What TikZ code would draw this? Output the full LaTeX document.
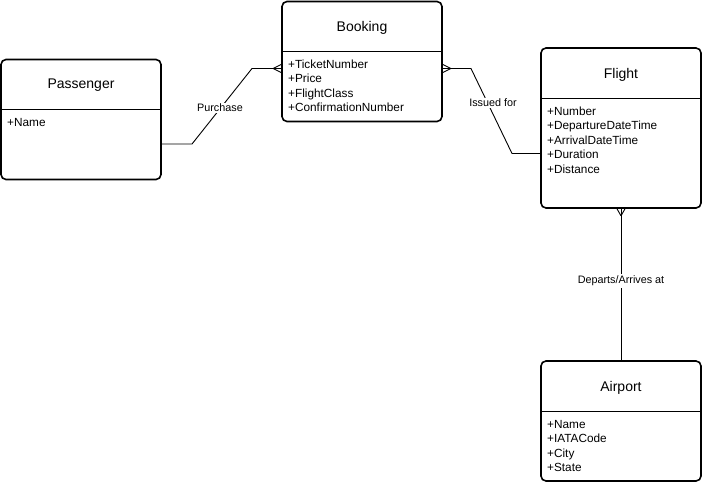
\documentclass[tikz,border=0pt]{standalone}
\usepackage{fontspec}
\setmainfont{Liberation Sans}
\begin{document}
\begin{tikzpicture}[x=1pt,y=-1pt,
  entity/.style={draw=black,line width=1.6pt,rounded corners=5pt,minimum width=160pt,inner sep=0pt,fill=white},
  divider/.style={draw=black,line width=1.4pt},
  title/.style={font=\fontsize{14pt}{16pt}\selectfont,inner sep=0pt},
  attr/.style={font=\fontsize{11.8pt}{14pt}\selectfont,anchor=west,inner sep=0pt,text height=8.5pt,text depth=2.5pt},
  rel/.style={draw=black,line width=0.9pt},
  crow/.style={draw=black,line width=0.9pt},
  lbl/.style={font=\fontsize{10.8pt}{12pt}\selectfont,fill=white,inner sep=1.5pt}
]
\useasboundingbox (0,0) rectangle (702,482);

% entity boxes
\node[entity,minimum height=120pt] (passenger) at (81,119.5) {};
\node[entity,minimum height=120pt] (booking) at (362,61.5) {};
\node[entity,minimum height=160pt] (flight) at (621,128) {};
\node[entity,minimum height=120pt] (airport) at (621,421) {};

% dividers
\draw[divider] (passenger.west |- 0,109.5) -- (passenger.east |- 0,109.5);
\draw[divider] (booking.west |- 0,51.5) -- (booking.east |- 0,51.5);
\draw[divider] (flight.west |- 0,98.5) -- (flight.east |- 0,98.5);
\draw[divider] (airport.west |- 0,411.5) -- (airport.east |- 0,411.5);

% titles
\node[title] (tpassenger) at (81,85.5) {Passenger};
\node[title] (tbooking) at (362,27.5) {Booking};
\node[title] (tflight) at (621,74.5) {Flight};
\node[title] (tairport) at (621,387.5) {Airport};

% attributes
\node[attr] (pa1) at (7,123.5) {+Name};

\foreach \t [count=\i from 0] in {+TicketNumber,+Price,+FlightClass,+ConfirmationNumber}
  \node[attr] (ba\i) at (288,65.3+14.5*\i) {\t};

\foreach \t [count=\i from 0] in {+Number,+DepartureDateTime,+ArrivalDateTime,+Duration,+Distance}
  \node[attr] (fa\i) at (547,112.3+14.5*\i) {\t};

\foreach \t [count=\i from 0] in {+Name,+IATACode,+City,+State}
  \node[attr] (aa\i) at (547,425.3+14.5*\i) {\t};

% connector points
\coordinate (p1) at (passenger.east |- 0,144);
\coordinate (p2) at (192,144);
\coordinate (p3) at (252,68.5);
\coordinate (b1) at (booking.west |- 0,68.5);
\coordinate (b2) at (booking.east |- 0,68.5);
\coordinate (b3) at (471,68.5);
\coordinate (f0) at (512,153.5);
\coordinate (f1) at (flight.west |- 0,153.5);
\coordinate (f2) at (flight.south);
\coordinate (a1) at (airport.north);

% Purchase
\draw[rel] (p1) -- (p2) -- (p3) -- (b1);
\draw[crow] ([xshift=-8pt]b1) -- ([yshift=-4pt]b1);
\draw[crow] ([xshift=-8pt]b1) -- ([yshift=4pt]b1);
\node[lbl] (lpurchase) at (220,108) {Purchase};

% Issued for
\draw[rel] (b2) -- (b3) -- (f0) -- (f1);
\draw[crow] ([xshift=8pt]b2) -- ([yshift=-4pt]b2);
\draw[crow] ([xshift=8pt]b2) -- ([yshift=4pt]b2);
\node[lbl] (lissued) at (493,103) {Issued for};

% Departs/Arrives at
\draw[rel] (f2) -- (a1);
\draw[crow] ([yshift=-7pt]f2) -- ([xshift=-4pt]f2);
\draw[crow] ([yshift=-7pt]f2) -- ([xshift=4pt]f2);
\node[lbl] (ldeparts) at (621,281) {Departs/Arrives at};
\end{tikzpicture}
\end{document}
